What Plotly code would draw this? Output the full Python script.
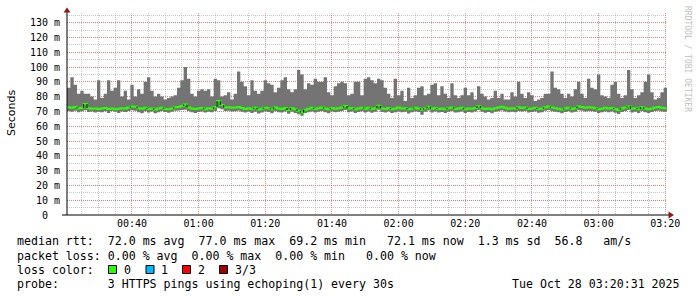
import plotly.graph_objects as go
import pandas as pd

# ---------------- data ----------------
START = "2025-10-28 00:20:31"
END = "2025-10-28 03:20:31"
N_STEPS = 180  # one-minute steps

max_rtt = [
    86, 93, 88, 82, 84, 82, 82, 80, 78, 91,
    79, 82, 91, 84, 86, 91, 80, 84, 78, 88,
    80, 85, 82, 90, 93, 84, 80, 82, 80, 78,
    79, 80, 81, 86, 91, 100, 92, 82, 80, 84,
    85, 84, 85, 80, 92, 91, 80, 81, 83, 78,
    82, 97, 90, 87, 81, 91, 84, 82, 84, 91,
    89, 88, 83, 86, 91, 93, 85, 83, 85, 98,
    95, 85, 89, 88, 92, 90, 90, 93, 83, 81,
    87, 89, 90, 89, 81, 82, 90, 90, 81, 92,
    93, 91, 89, 92, 91, 86, 82, 79, 92, 81,
    84, 77, 86, 79, 81, 86, 87, 81, 82, 88,
    89, 81, 87, 82, 79, 89, 81, 79, 81, 86,
    81, 83, 78, 87, 82, 80, 78, 79, 84, 79,
    82, 78, 78, 83, 80, 90, 82, 79, 83, 81,
    77, 78, 79, 82, 82, 97, 86, 85, 82, 79,
    82, 80, 85, 90, 82, 79, 92, 86, 85, 95,
    81, 80, 79, 88, 90, 82, 79, 81, 98, 85,
    79, 81, 83, 90, 95, 83, 78, 79, 83, 86,
]

median_rtt = [
    72.8, 72.5, 72.9, 72.0, 72.4, 75.0, 72.2, 71.8, 72.0, 71.6,
    71.9, 72.3, 71.7, 72.0, 71.5, 71.8, 72.2, 71.9, 72.6, 73.4,
    73.2, 72.1, 71.8, 72.4, 71.6, 72.0, 71.3, 71.9, 72.5, 71.7,
    71.4, 72.0, 72.8, 73.0, 73.6, 74.6, 72.6, 72.0, 71.7, 71.9,
    72.3, 71.5, 72.1, 71.8, 72.9, 77.0, 74.3, 72.6, 72.8, 72.4,
    72.6, 72.9, 72.3, 71.7, 72.2, 71.6, 72.4, 71.3, 71.8, 72.5,
    72.2, 71.4, 72.6, 72.0, 71.7, 72.3, 71.0, 72.1, 71.5, 70.4,
    69.2, 71.2, 71.8, 72.4, 71.6, 72.2, 72.7, 72.0, 71.5, 72.3,
    71.8, 72.1, 72.6, 73.6, 71.9, 72.3, 71.4, 72.0, 72.5, 71.8,
    72.4, 71.6, 72.2, 73.8, 72.0, 71.7, 72.3, 71.5, 72.0, 72.6,
    71.9, 72.2, 71.4, 71.8, 72.5, 72.0, 71.3, 72.1, 73.2, 71.8,
    72.3, 71.6, 72.0, 71.4, 72.2, 72.7, 71.7, 71.9, 72.4, 71.5,
    72.0, 71.8, 72.3, 73.5, 72.2, 71.6, 72.0, 71.4, 72.1, 72.6,
    73.1, 72.4, 71.8, 72.2, 71.9, 72.8, 72.3, 72.6, 71.7, 72.0,
    72.4, 71.6, 71.9, 72.8, 73.4, 72.6, 72.2, 71.8, 71.3, 72.0,
    72.5, 71.7, 72.1, 73.3, 73.0, 72.5, 72.8, 72.6, 72.2, 71.5,
    71.8, 72.4, 71.9, 72.3, 71.6, 71.0, 72.0, 72.6, 73.4, 71.8,
    72.2, 71.5, 72.8, 71.9, 71.4, 72.0, 72.6, 73.0, 72.4, 72.1,
]

min_rtt = [
    70.2, 69.8, 70.5, 69.4, 70.1, 70.8, 69.6, 70.0, 69.2, 69.8,
    69.5, 70.1, 69.0, 70.2, 69.7, 68.9, 70.0, 69.6, 70.3, 70.8,
    70.5, 69.4, 68.7, 70.1, 69.3, 69.9, 68.8, 69.5, 70.2, 69.6,
    69.1, 69.8, 70.4, 70.6, 71.0, 71.2, 70.2, 69.4, 68.9, 69.6,
    70.0, 69.2, 69.8, 69.5, 70.3, 72.1, 71.4, 70.2, 70.4, 69.9,
    70.1, 70.5, 69.8, 69.2, 69.9, 69.0, 69.8, 68.6, 69.3, 70.0,
    69.6, 68.8, 70.1, 69.5, 69.2, 69.9, 68.4, 69.7, 69.0, 68.0,
    67.0, 68.9, 69.4, 70.0, 69.2, 69.8, 70.2, 69.5, 68.8, 69.9,
    69.4, 69.7, 70.2, 71.0, 69.5, 69.9, 68.9, 69.6, 70.1, 69.3,
    70.0, 69.1, 69.8, 71.2, 69.6, 69.2, 69.9, 68.9, 69.5, 70.1,
    69.5, 69.8, 68.6, 69.4, 70.0, 69.6, 67.8, 69.7, 70.6, 69.3,
    69.9, 69.2, 69.6, 68.9, 69.8, 70.2, 69.3, 69.5, 70.0, 69.0,
    69.6, 69.3, 69.9, 70.9, 69.8, 69.1, 69.6, 68.8, 69.7, 70.2,
    70.6, 70.0, 69.4, 69.8, 69.5, 70.3, 69.9, 70.2, 69.2, 69.6,
    70.0, 69.1, 69.5, 70.4, 70.9, 70.1, 69.8, 69.4, 68.7, 69.6,
    70.1, 69.3, 69.7, 70.8, 70.5, 70.0, 70.3, 70.1, 69.8, 68.9,
    69.4, 70.0, 69.5, 69.9, 69.1, 68.2, 69.6, 70.2, 70.9, 69.3,
    69.8, 69.0, 70.3, 69.5, 68.9, 69.6, 70.2, 70.5, 70.0, 69.7,
]

y_tick_vals = [0, 10, 20, 30, 40, 50, 60, 70, 80, 90, 100, 110, 120, 130]
y_tick_text = ["0\u00a0\u00a0"] + [f"{v}\u00a0m" for v in y_tick_vals[1:]]

legend_lines = [
    "median rtt:  72.0 ms avg  77.0 ms max  69.2 ms min   72.1 ms now  1.3 ms sd  56.8   am/s",
    "packet loss: 0.00 % avg  0.00 % max  0.00 % min   0.00 % now",
]
loss_labels = ["0", "1", "2", "3/3"]
loss_colors = ["#26ff00", "#00b8ff", "#ff0000", "#a10000"]
probe_text = "probe:       3 HTTPS pings using echoping(1) every 30s"
stamp_text = "Tue Oct 28 03:20:31 2025"

# ---------------- layout geometry ----------------
W, H = 697, 297
L, R, T, B = 67, 30, 13, 82
PW, PH = W - L - R, H - T - B


def px(x):
    return (x - L) / PW


def py(y):
    return (H - B - y) / PH


SMOKE = "#747474"
MONO = "DejaVu Sans Mono"
LEG_SIZE = 11.6

times = pd.date_range(START, periods=N_STEPS, freq="min")
end_ts = pd.Timestamp(END)
step_x = list(times) + [end_ts]

fig = go.Figure()

# smoke (min .. max) as a stepped filled band
fig.add_trace(go.Scatter(
    x=step_x, y=min_rtt + [min_rtt[-1]], mode="lines",
    line=dict(width=0, shape="hv", color=SMOKE), hoverinfo="skip",
))
fig.add_trace(go.Scatter(
    x=step_x, y=max_rtt + [max_rtt[-1]], mode="lines",
    line=dict(width=0, shape="hv", color=SMOKE),
    fill="tonexty", fillcolor=SMOKE, hoverinfo="skip",
))

# median line
fig.add_trace(go.Scatter(
    x=step_x,
    y=median_rtt + [median_rtt[-1]],
    mode="lines",
    line=dict(color=loss_colors[0], width=2, shape="hv"),
    hoverinfo="skip",
))

# dark step connectors where the median jumps
cx, cy = [], []
for i in range(1, N_STEPS):
    if abs(median_rtt[i] - median_rtt[i - 1]) >= 0.7:
        cx += [times[i], times[i], None]
        cy += [median_rtt[i - 1], median_rtt[i], None]
fig.add_trace(go.Scatter(
    x=cx, y=cy, mode="lines",
    line=dict(color="#000000", width=1),
    hoverinfo="skip",
))

MAJ = "rgba(225,100,100,0.7)"
MIN = "rgba(175,175,175,0.7)"

fig.update_layout(
    width=W, height=H,
    margin=dict(l=L, r=R, t=T, b=B),
    paper_bgcolor="#ffffff",
    plot_bgcolor="#ffffff",
    showlegend=False,
    xaxis=dict(
        type="date",
        range=[START, END],
        tickmode="linear",
        tick0="2025-10-28 00:00:00",
        dtick=20 * 60 * 1000,
        tickformat="%H:%M",
        showgrid=True,
        gridcolor=MAJ,
        griddash="1px,1px",
        gridwidth=1,
        minor=dict(dtick=5 * 60 * 1000, showgrid=True, gridcolor=MIN,
                   griddash="1px,1px", gridwidth=1),
        showline=False,
        zeroline=False,
        ticks="",
        tickfont=dict(family=MONO, size=10, color="#000000"),
        ticklabelstandoff=1,
        fixedrange=True,
    ),
    yaxis=dict(
        range=[0, 136.5],
        tickmode="array",
        tickvals=y_tick_vals,
        ticktext=y_tick_text,
        showgrid=True,
        gridcolor=MAJ,
        griddash="1px,1px",
        gridwidth=1,
        minor=dict(dtick=5, showgrid=True, gridcolor=MIN,
                   griddash="1px,1px", gridwidth=1),
        showline=False,
        zeroline=False,
        ticks="",
        tickfont=dict(family=MONO, size=10, color="#000000"),
        ticklabelstandoff=6,
        fixedrange=True,
    ),
)

# axes with arrows
shapes = [
    dict(type="line", xref="paper", yref="paper", x0=px(67), x1=px(67),
         y0=py(215), y1=py(10), line=dict(color="#000000", width=1)),
    dict(type="line", xref="paper", yref="paper", x0=px(62), x1=px(669),
         y0=py(215), y1=py(215), line=dict(color="#000000", width=1)),
    dict(type="path", xref="paper", yref="paper",
         path=f"M {px(63.5)} {py(12.5)} L {px(70.5)} {py(12.5)} L {px(67)} {py(7.5)} Z",
         fillcolor="#8b1a1a", line=dict(width=0)),
    dict(type="path", xref="paper", yref="paper",
         path=f"M {px(668.5)} {py(211.5)} L {px(668.5)} {py(218.5)} L {px(674)} {py(215)} Z",
         fillcolor="#8b1a1a", line=dict(width=0)),
]

# loss colour boxes
box_x = [108.5, 146, 182.5, 219.5]
label_x = [122, 159, 196, 233]
for bx, c in zip(box_x, loss_colors):
    shapes.append(dict(type="rect", xref="paper", yref="paper",
                       x0=px(bx), x1=px(bx + 8), y0=py(273.5), y1=py(265.5),
                       fillcolor=c, line=dict(color="#000000", width=1)))
fig.update_layout(shapes=shapes)

ann = []


def text(x, y, s, xanchor="left", size=LEG_SIZE, color="#000000", family=MONO, angle=0):
    ann.append(dict(x=px(x), y=py(y), xref="paper", yref="paper",
                    text=s.replace(" ", "\u00a0"), showarrow=False,
                    xanchor=xanchor, yanchor="middle", textangle=angle,
                    font=dict(family=family, size=size, color=color)))


for i, line in enumerate(legend_lines):
    text(15, 241.5 + 14 * i, line)
text(15, 269.5, "loss color:")
for lx, lab in zip(label_x, loss_labels):
    text(lx, 269.5, lab)
text(15, 283.5, probe_text)
text(682, 283.5, stamp_text, xanchor="right")

ann.append(dict(x=px(11), y=py(113), xref="paper", yref="paper", text="Seconds",
                showarrow=False, textangle=-90, xanchor="center", yanchor="middle",
                font=dict(family="DejaVu Sans", size=11, color="#000000")))
ann.append(dict(x=px(687), y=py(59), xref="paper", yref="paper",
                text="RRDTOOL\u00a0/\u00a0TOBI\u00a0OETIKER",
                showarrow=False, textangle=90, xanchor="center", yanchor="middle",
                font=dict(family=MONO, size=8, color="#c0c0c0")))
fig.update_layout(annotations=ann)

fig.write_html("out.html")
